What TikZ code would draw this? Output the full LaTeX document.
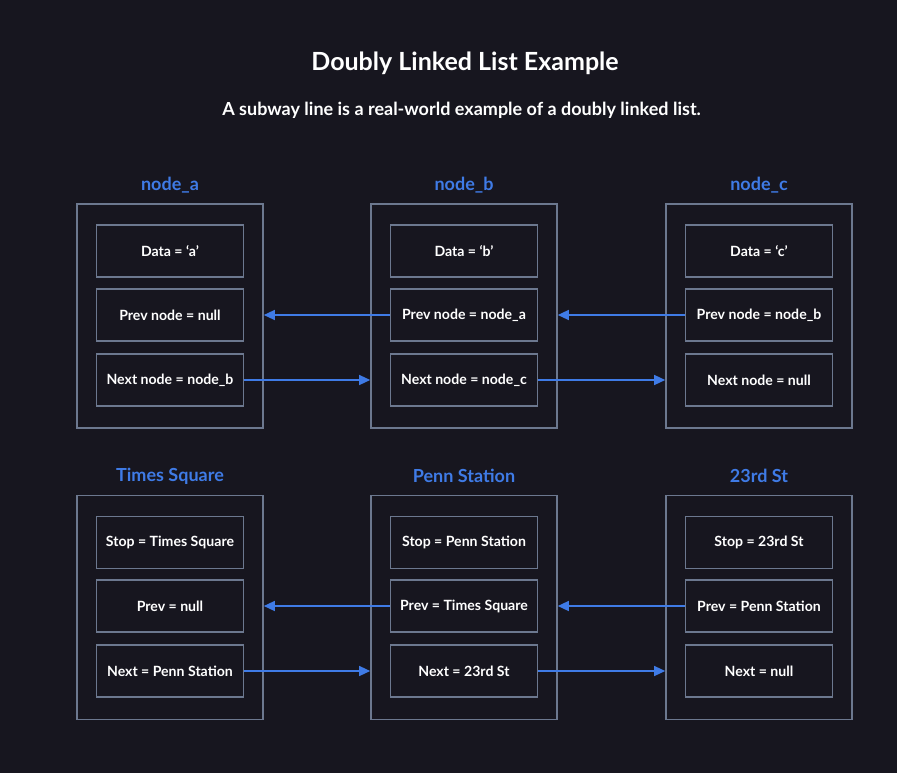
\documentclass[tikz,border=0pt]{standalone}
\usepackage{fontspec}
\setmainfont{Lato}
\usetikzlibrary{arrows.meta}
\definecolor{bgc}{HTML}{17161F}
\definecolor{blu}{HTML}{3F7BE6}
\definecolor{gry}{HTML}{6C788F}
\tikzset{
  outerbox/.style={draw=gry, line width=1.6pt, minimum width=186pt, minimum height=224pt, inner sep=0pt},
  field/.style={draw=gry, line width=1.6pt, minimum width=147pt, minimum height=52pt, inner sep=0pt, text=white, font=\bfseries\fontsize{14.1}{16}\selectfont},
  heading/.style={text=blu, font=\bfseries\fontsize{18}{20}\selectfont},
  link/.style={draw=blu, line width=1.3pt, -{Triangle[length=11pt,width=10pt]}},
}
\begin{document}
\begin{tikzpicture}[x=1pt,y=-1pt]
\fill[bgc] (0,0) rectangle (897,773);
\useasboundingbox (0,0) rectangle (897,773);
\node[text=white, font=\bfseries\fontsize{25}{28}\selectfont] (title) at (465,63) {Doubly Linked List Example};
\node[text=white, font=\bfseries\fontsize{18}{21}\selectfont] (sub) at (461.5,110) {A subway line is a real-world example of a doubly linked list.};
% top row
\foreach \n/\cx/\lab/\da/\pr/\nx in {a/170/node\_a/Data = ‘a’/Prev node = null/Next node = node\_b,
  b/464/node\_b/Data = ‘b’/Prev node = node\_a/Next node = node\_c,
  c/759/node\_c/Data = ‘c’/Prev node = node\_b/Next node = null}{
  \node[heading] (h\n) at (\cx,185) {\lab};
  \node[outerbox] (o\n) at (\cx,316) {};
  \node[field] (d\n) at (\cx,251) {\da};
  \node[field] (p\n) at (\cx,315) {\pr};
  \node[field] (x\n) at (\cx,380) {\nx};
}
% bottom row
\foreach \n/\cx/\lab/\da/\pr/\nx in {a/170/Times Square/Stop = Times Square/Prev = null/Next = Penn Station,
  b/464/Penn Station/Stop = Penn Station/Prev = Times Square/Next = 23rd St,
  c/759/23rd St/Stop = 23rd St/Prev = Penn Station/Next = null}{
  \node[heading] (H\n) at (\cx,476) {\lab};
  \node[outerbox] (O\n) at (\cx,607.5) {};
  \node[field] (D\n) at (\cx,542.5) {\da};
  \node[field] (P\n) at (\cx,606) {\pr};
  \node[field] (X\n) at (\cx,671) {\nx};
}
% links top
\draw[link] (pb.west) -- (pb.west -| oa.east);
\draw[link] (pc.west) -- (pc.west -| ob.east);
\draw[link] (xa.east) -- (xa.east -| ob.west);
\draw[link] (xb.east) -- (xb.east -| oc.west);
% links bottom
\draw[link] (Pb.west) -- (Pb.west -| Oa.east);
\draw[link] (Pc.west) -- (Pc.west -| Ob.east);
\draw[link] (Xa.east) -- (Xa.east -| Ob.west);
\draw[link] (Xb.east) -- (Xb.east -| Oc.west);
\end{tikzpicture}
\end{document}
